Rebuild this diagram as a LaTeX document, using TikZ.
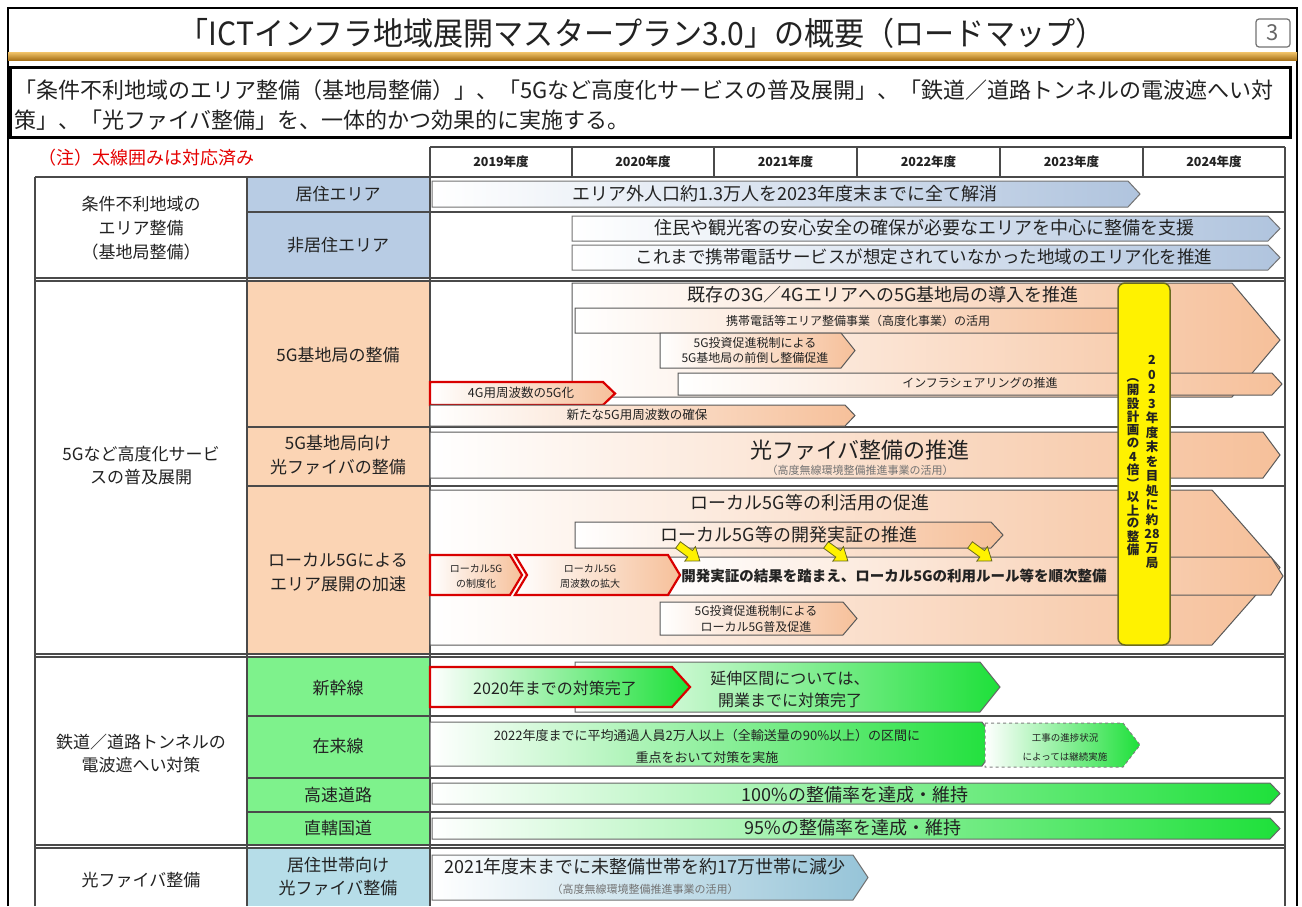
\documentclass[tikz,border=0pt]{standalone}
\usepackage{fontspec}
\setmainfont{Noto Sans CJK JP}
\usepackage{graphicx}
\usetikzlibrary{arrows.meta}
\definecolor{subblue}{HTML}{B8CCE4}
\definecolor{peach}{HTML}{FBD4B4}
\definecolor{lgreen}{HTML}{7EF28C}
\definecolor{fibblue}{HTML}{B6DDE8}
\definecolor{arblue}{HTML}{B0C4DE}
\definecolor{arpeach}{HTML}{F6C09A}
\definecolor{argreen}{HTML}{1EE03A}
\definecolor{arfib}{HTML}{96C4D8}
\definecolor{gridc}{HTML}{4A4A4A}
\definecolor{txt}{HTML}{222222}
\definecolor{ybord}{HTML}{6B6B1E}
\definecolor{gold1}{HTML}{F2C46A}
\definecolor{gold2}{HTML}{A8731A}
\newcommand{\fsz}[2]{\fontsize{#1pt}{#2pt}\selectfont}
\newcommand{\chev}[6]{\path[#1] (#2,#3) -- ({#4-#6},#3) -- (#4,{(#3+#5)/2}) -- ({#4-#6},#5) -- (#2,#5) -- cycle;}
\newcommand{\nchev}[7]{\path[#1] (#2,#3) -- ({#4-#6},#3) -- (#4,{(#3+#5)/2}) -- ({#4-#6},#5) -- (#2,#5) -- ({#2+#7},{(#3+#5)/2}) -- cycle;}
\tikzset{
  gl/.style={draw=gridc, line width=1.3pt},
  t/.style={inner sep=0pt, align=center, text=txt},
  bluearr/.style={draw=black!55, line width=1pt, left color=white, right color=arblue},
  peacharr/.style={draw=black!65, line width=1pt, left color=white, right color=arpeach},
  redarr/.style={draw=red!85!black, line width=2.2pt, left color=white, right color=arpeach},
  greenarr/.style={draw=black!60, line width=1pt, left color=white, right color=argreen},
  redgreen/.style={draw=red!85!black, line width=2.2pt, left color=white, right color=argreen},
  dashgreen/.style={draw=black!50, line width=1pt, dashed, left color=white, right color=argreen},
  fibarr/.style={draw=black!55, line width=1pt, left color=white, right color=arfib},
  yarrow/.style={fill=yellow, draw=ybord, line width=0.8pt},
}
\begin{document}
\begin{tikzpicture}[x=1pt,y=-1pt]
\useasboundingbox (0,0) rectangle (1302,906);
\fill[white] (0,0) rectangle (1302,906);
% frame and title
\draw[black, line width=1.5pt] (8,906) -- (8,8) -- (1297,8) -- (1297,906);
\shade[top color=gold1, bottom color=gold2] (8,52) rectangle (1297,60);
\node[t, font=\fsz{32}{36}] (title) at (642,33) {\scalebox{0.94}[1]{「ICTインフラ地域展開マスタープラン3.0」の概要（ロードマップ）}};
\draw[black!55, line width=1.2pt, rounded corners=3pt] (1256,19) rectangle (1290,47);
\node[t, font=\fsz{22}{24}, text=black!60] (pg) at (1273,33) {3};
% summary box
\draw[black, line width=3pt] (10,67) rectangle (1290,137);
\node[t, anchor=west, font=\fsz{22}{24}] (sum1) at (14,90) {「条件不利地域のエリア整備（基地局整備）」、「5Gなど高度化サービスの普及展開」、「鉄道／道路トンネルの電波遮へい対};
\node[t, anchor=west, font=\fsz{22}{24}] (sum2) at (14,120) {策」、「光ファイバ整備」を、一体的かつ効果的に実施する。};
\node[t, anchor=west, text=red!90!black, font=\fsz{18}{20}] (note) at (38,158) {（注）太線囲みは対応済み};
% sub cell fills
\fill[subblue] (247,177) rectangle (430,278);
\fill[peach] (247,281) rectangle (430,654);
\fill[lgreen] (247,657) rectangle (430,845);
\fill[fibblue] (247,848) rectangle (430,906);
% grid
\draw[gl] (430,147) -- (1285,147);
\foreach \xx in {572,714,857,1000,1143} \draw[gl] (\xx,147) -- (\xx,177);
\draw[gl] (430,147) -- (430,906);
\draw[gl] (1285,147) -- (1285,906);
\draw[gl] (35,177) -- (1285,177);
\draw[gl] (35,177) -- (35,906);
\draw[gl] (247,177) -- (247,906);
\draw[gl] (247,212) -- (1285,212);
\draw[gl] (35,278) -- (1285,278);
\draw[gl] (35,281) -- (1285,281);
\draw[gl] (247,427) -- (1285,427);
\draw[gl] (247,486) -- (1285,486);
\draw[gl] (35,654) -- (1285,654);
\draw[gl] (35,657) -- (1285,657);
\draw[gl] (247,716) -- (1285,716);
\draw[gl] (247,778) -- (1285,778);
\draw[gl] (247,812) -- (1285,812);
\draw[gl] (35,845) -- (1285,845);
\draw[gl] (35,848) -- (1285,848);
% year header
\foreach \yr/\cx in {2019/501,2020/643,2021/785.5,2022/928.5,2023/1071.5,2024/1214}
  \node[t, font=\fsz{12.5}{14}\bfseries] (y\yr) at (\cx,162) {\yr 年度};
% category labels
\node[t, font=\fsz{17}{24}] (c1) at (141,228) {条件不利地域の\\エリア整備\\（基地局整備）};
\node[t, font=\fsz{17}{23}] (c2) at (141,466) {5Gなど高度化サービ\\スの普及展開};
\node[t, font=\fsz{17}{23}] (c3) at (141,753) {鉄道／道路トンネルの\\電波遮へい対策};
\node[t, font=\fsz{17}{23}] (c4) at (141,880) {光ファイバ整備};
% sub labels
\node[t, font=\fsz{17}{24}] (s1) at (338,194) {居住エリア};
\node[t, font=\fsz{17}{24}] (s2) at (338,245) {非居住エリア};
\node[t, font=\fsz{17}{24}] (s3) at (338,355) {5G基地局の整備};
\node[t, font=\fsz{17}{24}] (s4) at (338,455) {5G基地局向け\\光ファイバの整備};
\node[t, font=\fsz{17}{24}] (s5) at (338,572) {ローカル5Gによる\\エリア展開の加速};
\node[t, font=\fsz{17}{24}] (s6) at (338,688) {新幹線};
\node[t, font=\fsz{17}{24}] (s7) at (338,746) {在来線};
\node[t, font=\fsz{17}{24}] (s8) at (338,795) {高速道路};
\node[t, font=\fsz{17}{24}] (s9) at (338,828) {直轄国道};
\node[t, font=\fsz{17}{23}] (s10) at (338,877) {居住世帯向け\\光ファイバ整備};
% arrows: area
\chev{bluearr}{432}{181}{1140}{207}{12}
\chev{bluearr}{572}{216}{1280}{241}{12}
\chev{bluearr}{572}{245}{1280}{270}{12}
% 5G base stations
\chev{peacharr}{572}{283}{1280}{397}{48}
\chev{peacharr}{575}{308}{1150}{333}{10}
\chev{peacharr}{660}{333}{855}{368}{14}
\chev{peacharr}{678}{373}{1282}{395}{10}
\chev{redarr}{430}{382}{615}{405}{12}
\chev{peacharr}{430}{405}{855}{426}{10}
% fiber for 5G
\chev{peacharr}{430}{432}{1280}{478}{17}
% local 5G
\chev{peacharr}{430}{490}{1280}{645}{68}
\chev{peacharr}{575}{522}{1003}{548}{12}
\nchev{peacharr}{668}{557}{1283}{595}{12}{12}
\nchev{redarr}{515}{555}{680}{595}{12}{12}
\chev{redarr}{430}{555}{522}{595}{12}
\chev{peacharr}{660}{602}{857}{635}{14}
% yellow small arrows
\foreach \ax/\ay in {678/545,826/545,970/545}{
  \begin{scope}[shift={(\ax,\ay)}, rotate=-36]
    \path[yarrow] (0,-4) -- (15,-4) -- (15,-9) -- (27,0) -- (15,9) -- (15,4) -- (0,4) -- cycle;
  \end{scope}
}
% rail / road
\chev{greenarr}{575}{662}{1000}{712}{20}
\chev{redgreen}{430}{667}{690}{707}{18}
\chev{greenarr}{430}{722}{998}{766}{16}
\chev{dashgreen}{985}{723}{1140}{767}{17}
\chev{greenarr}{432}{783}{1280}{804}{10}
\chev{greenarr}{432}{818}{1280}{839}{10}
% household fiber
\chev{fibarr}{432}{855}{868}{900}{15}
% yellow box
\draw[fill=yellow, draw=ybord, line width=1.5pt, rounded corners=7pt] (1118,283) rectangle (1170,645);
\foreach \c [count=\i] in {2,0,2,3,年,度,末,を,目,処,に,約,28,万,局}
  \node[t, font=\fsz{12.5}{13}\bfseries] (yr\i) at (1152,{360+(\i-1)*14.5}) {\c};
\foreach \c [count=\i] in {\rotatebox{-90}{（},開,設,計,画,の,4,倍,\rotatebox{-90}{）},以,上,の,整,備}
  \node[t, font=\fsz{12.5}{13}\bfseries] (yl\i) at (1133,{377+(\i-1)*13.3}) {\c};
% timeline texts
\node[t, font=\fsz{18}{22}] (a1) at (785,194) {エリア外人口約1.3万人を2023年度末までに全て解消};
\node[t, font=\fsz{18}{22}] (a2) at (924,228) {住民や観光客の安心安全の確保が必要なエリアを中心に整備を支援};
\node[t, font=\fsz{17.5}{22}] (a3) at (924,257) {これまで携帯電話サービスが想定されていなかった地域のエリア化を推進};
\node[t, font=\fsz{18}{22}] (b1) at (883,295) {既存の3G／4Gエリアへの5G基地局の導入を推進};
\node[t, font=\fsz{12}{15}] (b2) at (858,321) {携帯電話等エリア整備事業（高度化事業）の活用};
\node[t, font=\fsz{12}{15}] (b3) at (755,350) {5G投資促進税制による\\5G基地局の前倒し整備促進};
\node[t, font=\fsz{12}{15}] (b4) at (980,383) {インフラシェアリングの推進};
\node[t, font=\fsz{12.5}{15}] (b5) at (521,393) {4G用周波数の5G化};
\node[t, font=\fsz{12.5}{15}] (b6) at (637,415) {新たな5G用周波数の確保};
\node[t, font=\fsz{22}{24}] (f1) at (860,450) {光ファイバ整備の推進};
\node[t, font=\fsz{11}{13}, text=black!55] (f2) at (860,470) {（高度無線環境整備推進事業の活用）};
\node[t, font=\fsz{18}{22}] (l1) at (810,503) {ローカル5G等の利活用の促進};
\node[t, font=\fsz{18}{22}] (l2) at (789,535) {ローカル5G等の開発実証の推進};
\node[t, font=\fsz{10}{15}] (l3) at (476,576) {ローカル5G\\の制度化};
\node[t, font=\fsz{10}{15}] (l4) at (590,576) {ローカル5G\\周波数の拡大};
\node[t, font=\fsz{14.5}{17}\bfseries] (l5) at (894,576) {開発実証の結果を踏まえ、ローカル5Gの利用ルール等を順次整備};
\node[t, font=\fsz{12}{16}] (l6) at (756,619) {5G投資促進税制による\\ローカル5G普及促進};
\node[t, font=\fsz{16}{20}] (r1) at (555,688) {2020年までの対策完了};
\node[t, font=\fsz{16}{22}] (r2) at (790,689) {延伸区間については、\\開業までに対策完了};
\node[t, font=\fsz{13}{22}] (r3) at (707,746) {2022年度までに平均通過人員2万人以上（全輸送量の90\%以上）の区間に\\重点をおいて対策を実施};
\node[t, font=\fsz{9.5}{19}] (r4) at (1065,747) {工事の進捗状況\\によっては継続実施};
\node[t, font=\fsz{18}{22}] (r5) at (855,795) {100\%の整備率を達成・維持};
\node[t, font=\fsz{18}{22}] (r6) at (853,828) {95\%の整備率を達成・維持};
\node[t, font=\fsz{18}{22}] (h1) at (645,867) {2021年度末までに未整備世帯を約17万世帯に減少};
\node[t, font=\fsz{11}{13}, text=black!55] (h2) at (645,889) {（高度無線環境整備推進事業の活用）};
\end{tikzpicture}
\end{document}
